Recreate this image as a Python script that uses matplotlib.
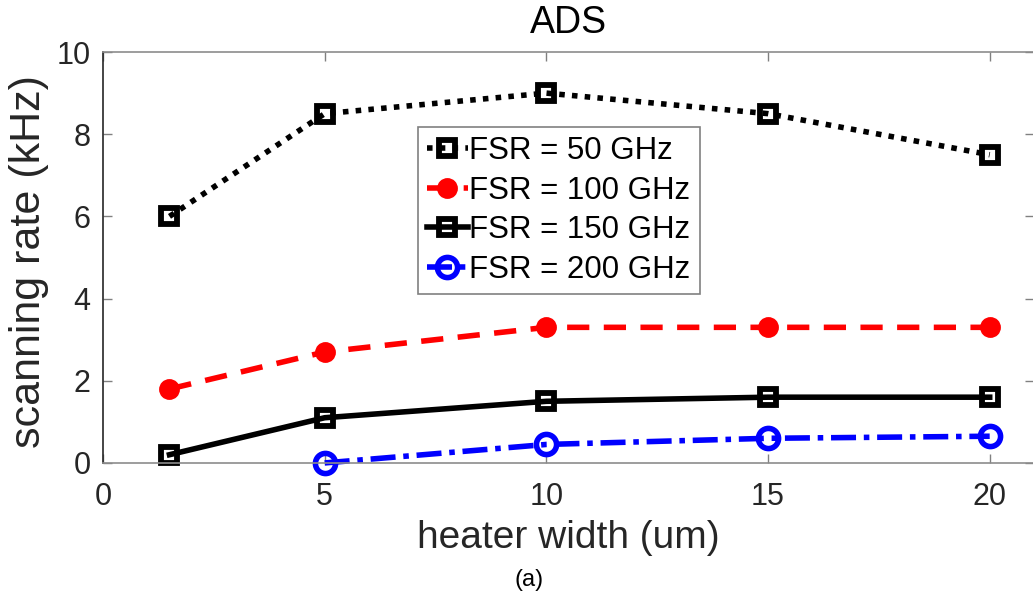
import matplotlib
matplotlib.use("Agg")
import matplotlib.pyplot as plt

plt.rcParams["font.family"] = ["Liberation Sans", "DejaVu Sans"]

# heater widths (um)
widths = [1.5, 5, 10, 15, 20]
widths_200 = [5, 10, 15, 20]

# scanning rate (kHz) per FSR
rate_50 = [6.0, 8.5, 9.0, 8.5, 7.5]
rate_100 = [1.8, 2.7, 3.3, 3.3, 3.3]
rate_150 = [0.2, 1.1, 1.5, 1.6, 1.6]
rate_200 = [0.0, 0.45, 0.6, 0.65]

labels = ["FSR = 50 GHz", "FSR = 100 GHz", "FSR = 150 GHz", "FSR = 200 GHz"]

fig = plt.figure(figsize=(10.33, 6.02), dpi=100)
ax = fig.add_axes([0.0997, 0.231, 0.9013, 0.6826])

lw = 4
ax.plot(widths, rate_50, color="black", lw=lw, linestyle=(0, (1, 1.3)),
        marker="s", ms=12, mew=4.2, mfc="none", label=labels[0], clip_on=False)
ax.plot(widths, rate_100, color="red", lw=lw, linestyle=(0, (4, 2.6)),
        marker="o", ms=13, mew=2, mfc="red", label=labels[1], clip_on=False)
ax.plot(widths, rate_150, color="black", lw=lw, linestyle="-",
        marker="s", ms=12, mew=4.2, mfc="none", label=labels[2], clip_on=False)
ax.plot(widths_200, rate_200, color="blue", lw=lw, linestyle=(0, (4.5, 1.4, 1, 1.4)),
        marker="o", ms=14.5, mew=4, mfc="none", label=labels[3], clip_on=False)

ax.set_xlim(0, 21)
ax.set_ylim(0, 10)
ax.set_xticks([0, 5, 10, 15, 20])
ax.set_yticks([0, 2, 4, 6, 8, 10])
ax.tick_params(direction="in", length=6.5, width=1, labelsize=22,
               colors="#808080", labelcolor="#262626", top=True, right=True)
ax.tick_params(axis="x", pad=14)
ax.tick_params(axis="y", pad=9)
for name, sp in ax.spines.items():
    sp.set_color("#262626" if name == "left" else "#8c8c8c")
    sp.set_linewidth(1.2)

ax.set_title("ADS", fontsize=27, color="black", pad=14)
ax.set_xlabel("heater width (um)", fontsize=28, color="#262626")
ax.set_ylabel("scanning rate (kHz)", fontsize=31, color="#262626")
ax.xaxis.set_label_coords(0.5, -0.14)
ax.yaxis.set_label_coords(-0.058, 0.49)

leg = ax.legend(loc="upper left", bbox_to_anchor=(0.338, 0.8175), fontsize=22.5,
                frameon=True, fancybox=False, edgecolor="#808080", framealpha=1,
                handlelength=1.3, handletextpad=0.05, borderpad=0.3,
                labelspacing=0.3, borderaxespad=0)
leg.get_frame().set_linewidth(1.2)

fig.text(0.512, 0.037, "(a)", fontsize=17, ha="center", va="center", color="black")

fig.savefig("out.png", dpi=100)
